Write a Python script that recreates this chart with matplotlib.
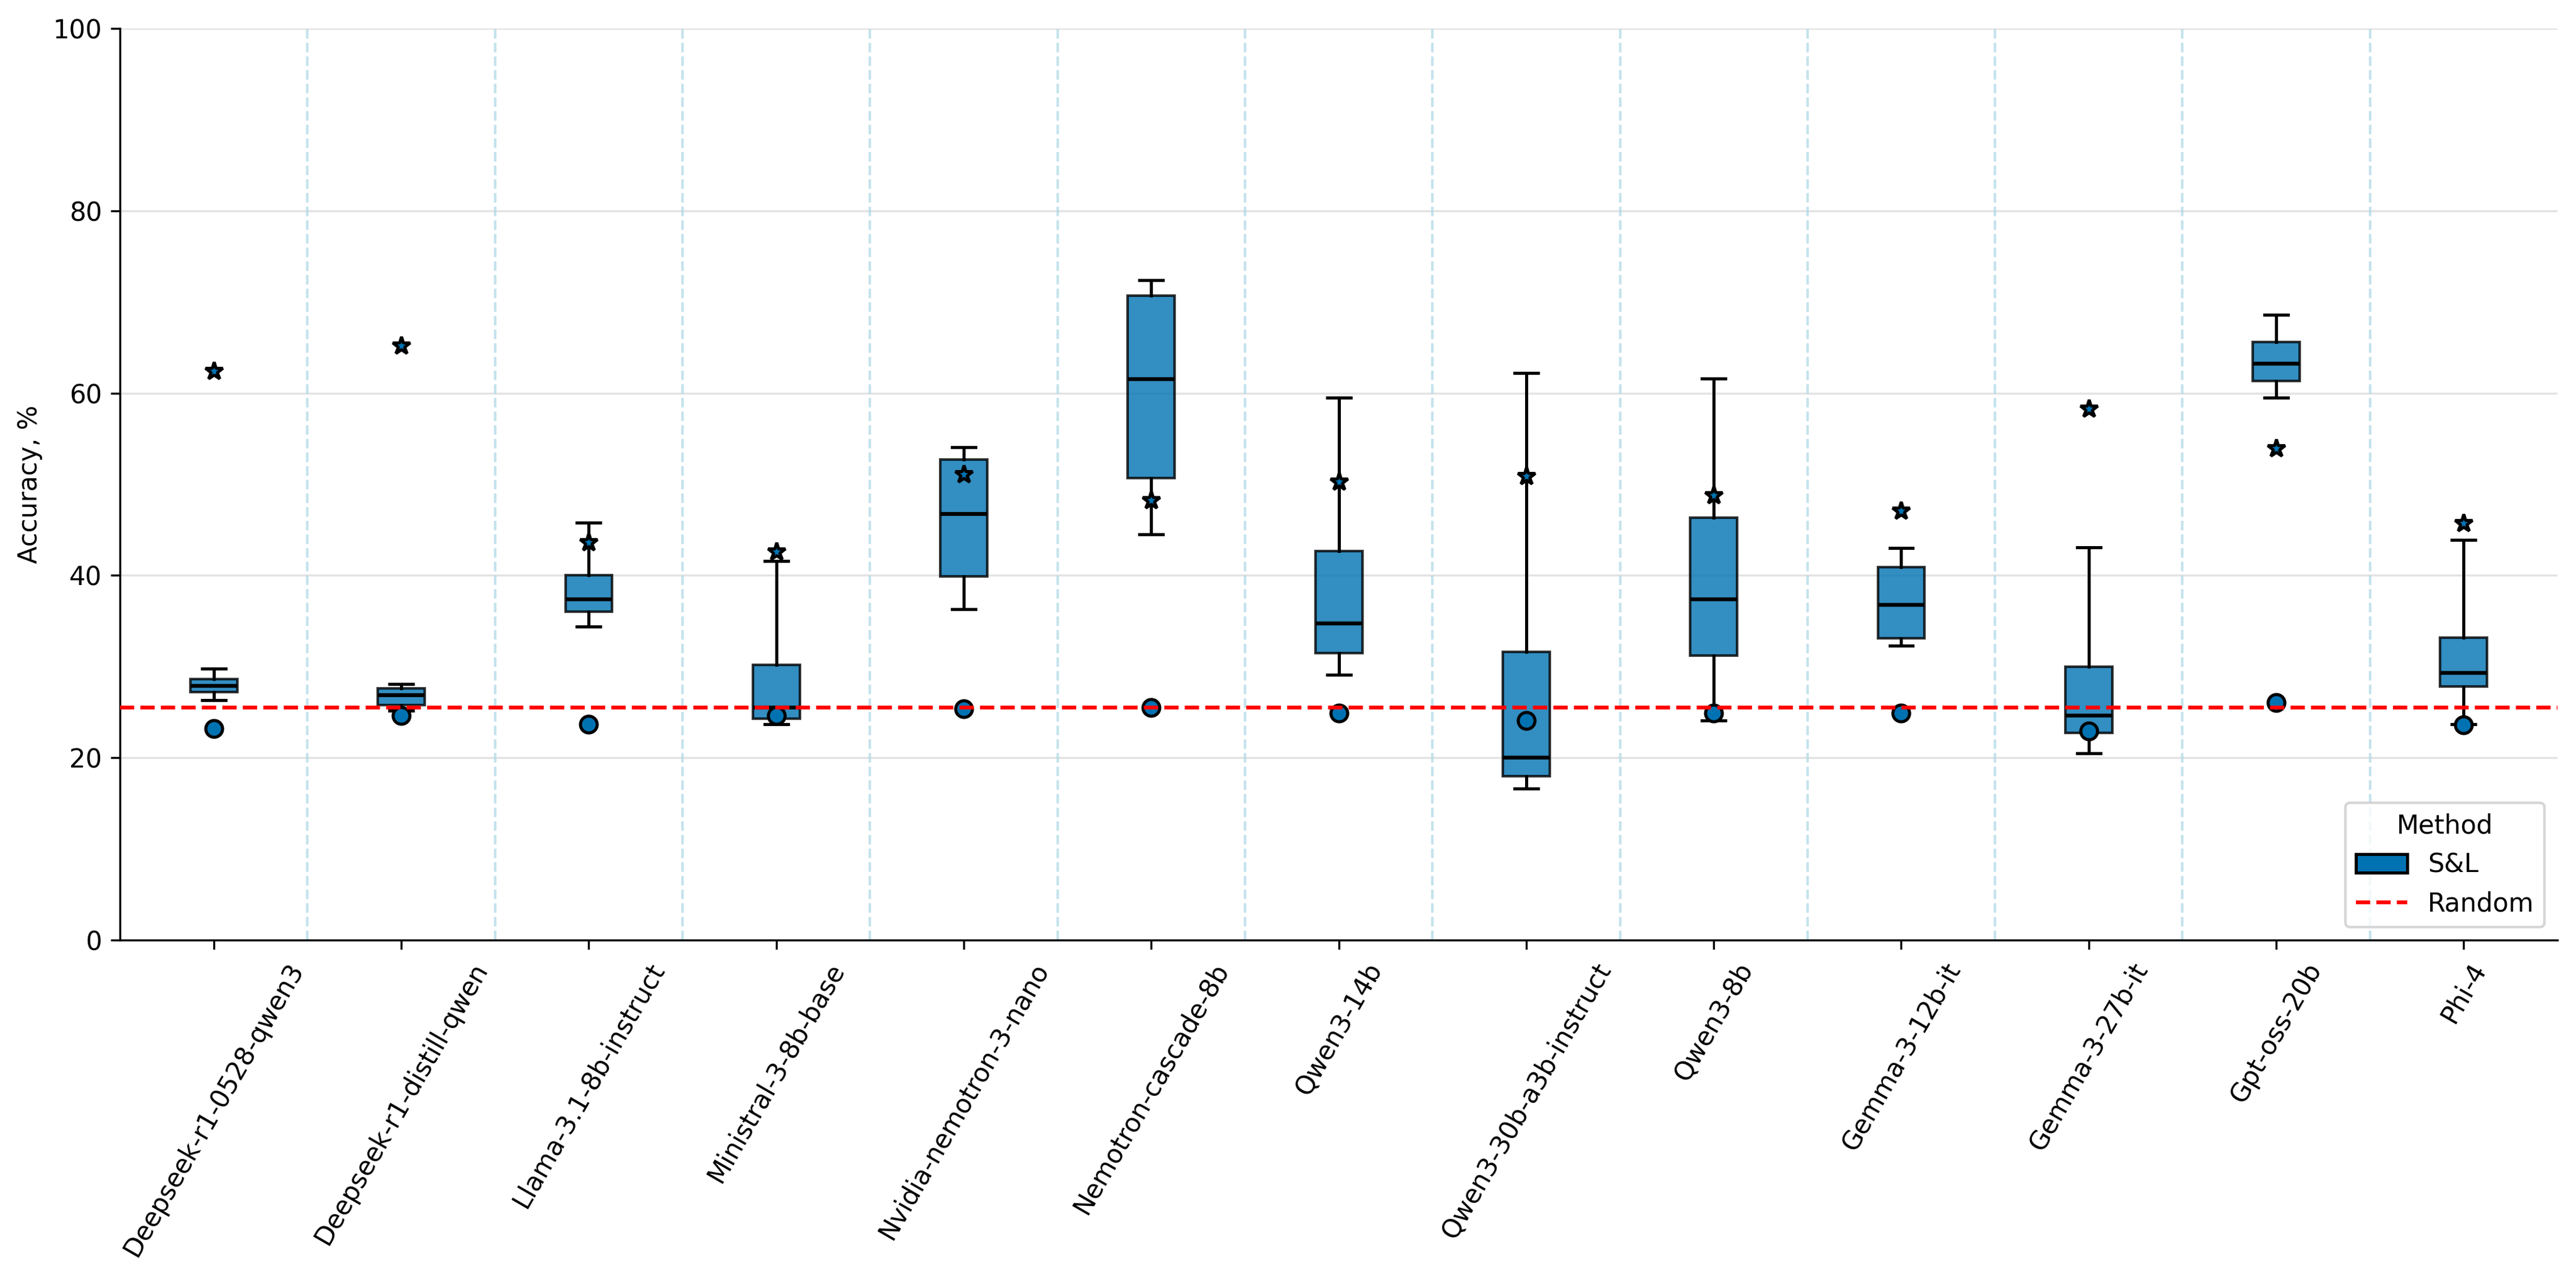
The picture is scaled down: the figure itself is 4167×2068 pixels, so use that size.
import matplotlib
matplotlib.use("Agg")
import matplotlib.pyplot as plt
from matplotlib.patches import Patch
from matplotlib.lines import Line2D

models = ["Deepseek-r1-0528-qwen3", "Deepseek-r1-distill-qwen", "Llama-3.1-8b-instruct",
          "Ministral-3-8b-base", "Nvidia-nemotron-3-nano", "Nemotron-cascade-8b",
          "Qwen3-14b", "Qwen3-30b-a3b-instruct", "Qwen3-8b", "Gemma-3-12b-it",
          "Gemma-3-27b-it", "Gpt-oss-20b", "Phi-4"]
q1 = [27.2, 25.8, 36.0, 24.3, 39.9, 50.7, 31.5, 18.0, 31.2, 33.1, 22.7, 61.3, 27.8]
median = [27.9, 26.85, 37.4, 25.5, 46.75, 61.5, 34.7, 20.0, 37.4, 36.8, 24.6, 63.2, 29.3]
q3 = [28.6, 27.6, 40.0, 30.2, 52.7, 70.7, 42.65, 31.6, 46.3, 40.9, 30.0, 65.6, 33.2]
whislo = [26.3, 25.2, 34.4, 23.7, 36.3, 44.5, 29.1, 16.6, 24.1, 32.3, 20.5, 59.5, 23.7]
whishi = [29.75, 28.06, 45.8, 41.6, 54.1, 72.4, 59.5, 62.2, 61.6, 43.0, 43.06, 68.6, 43.9]
star_vals = [62.4, 65.2, 43.65, 42.6, 51.1, 48.2, 50.3, 50.9, 48.8, 47.05, 58.3, 53.95, 45.75]
circle_vals = [23.2, 24.6, 23.7, 24.6, 25.4, 25.5, 24.9, 24.05, 24.9, 24.9, 22.9, 26.05, 23.6]
random_baseline = 25.5

BLUE = "#0072B2"

fig = plt.figure(figsize=(4167 / 300, 2068 / 300), dpi=300)
ax = fig.add_axes([0.0466, 0.265, 0.9462, 0.7128])

positions = list(range(len(models)))
stats = []
for i in positions:
    stats.append(dict(med=median[i], q1=q1[i], q3=q3[i], whislo=whislo[i],
                      whishi=whishi[i], fliers=[]))

bp = ax.bxp(stats, positions=positions, widths=0.25, patch_artist=True,
            showfliers=False,
            boxprops=dict(facecolor=BLUE, edgecolor="black", alpha=0.8, linewidth=1.0),
            medianprops=dict(color="black", linewidth=1.5),
            whiskerprops=dict(color="black", linewidth=1.2),
            capprops=dict(color="black", linewidth=1.2),
            zorder=3)

ax.plot(positions, star_vals, linestyle="none", marker="*", markersize=7,
        markerfacecolor=BLUE, markeredgecolor="black", markeredgewidth=1.2, zorder=5)
ax.plot(positions, circle_vals, linestyle="none", marker="o", markersize=6.5,
        markerfacecolor=BLUE, markeredgecolor="black", markeredgewidth=1.2, zorder=5)

for i in positions[:-1]:
    ax.axvline(i + 0.5, color="lightblue", linestyle="--", linewidth=1.0, alpha=0.7, zorder=1)

ax.axhline(random_baseline, color="red", linestyle="--", linewidth=1.5, zorder=6)

ax.set_xlim(-0.5, len(models) - 0.5)
ax.set_ylim(0, 100)
ax.set_yticks([0, 20, 40, 60, 80, 100])
ax.set_xticks(positions)
ax.set_xticklabels(models, rotation=60)
ax.set_ylabel("Accuracy, %")
ax.yaxis.grid(True, color="#e3e3e3", linewidth=0.8, zorder=0)
ax.set_axisbelow(True)
ax.spines["top"].set_visible(False)
ax.spines["right"].set_visible(False)

handles = [Patch(facecolor=BLUE, edgecolor="black", linewidth=1.2, label="S&L"),
           Line2D([0], [0], color="red", linestyle="--", linewidth=1.5, label="Random")]
ax.legend(handles=handles, title="Method", loc="lower right")

fig.savefig("out.png", dpi=300)
